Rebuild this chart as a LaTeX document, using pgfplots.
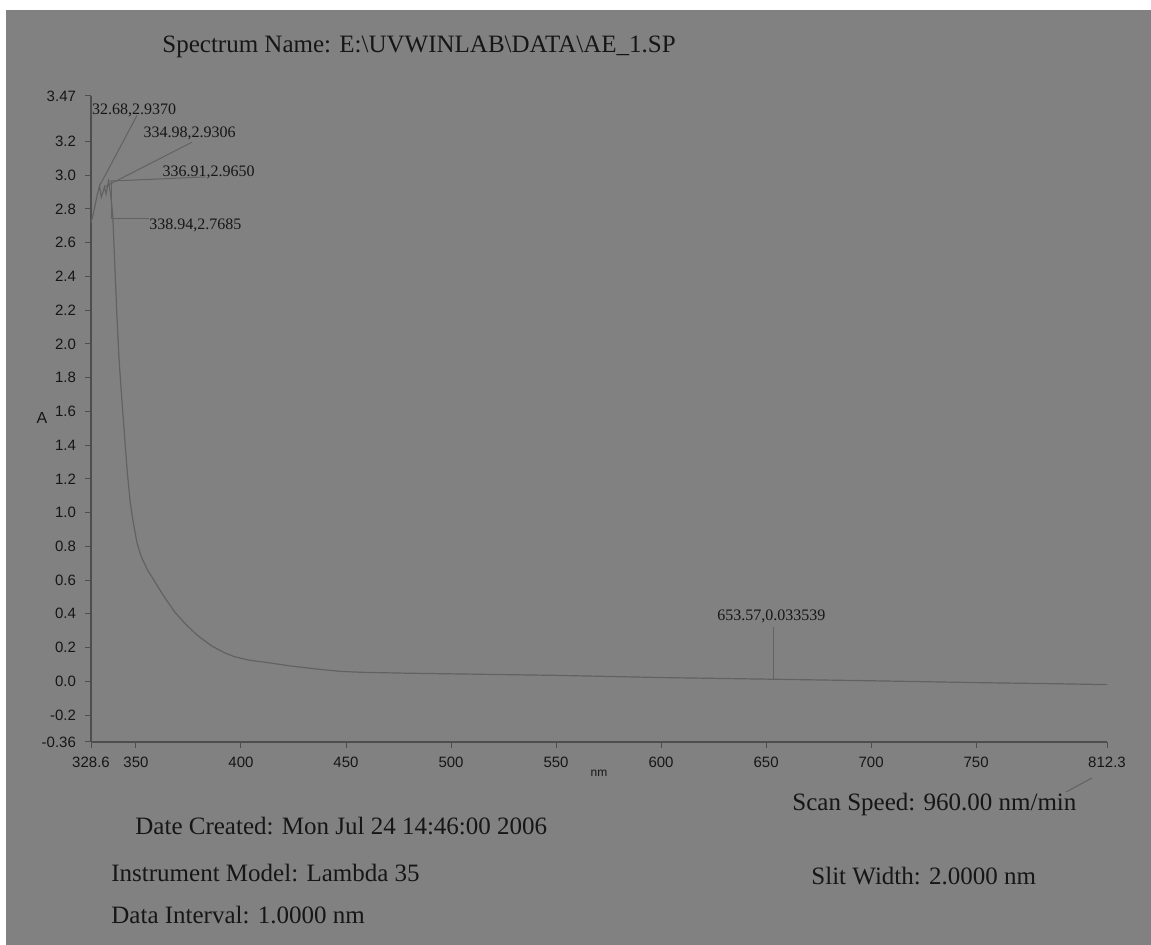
\documentclass[border=0pt]{standalone}
\usepackage{fontspec}
\setmainfont{Liberation Serif}
\newfontfamily\sansfont{Liberation Sans}
\usepackage{pgfplots}
\pgfplotsset{compat=1.18}
\definecolor{bg}{RGB}{129,129,129}
\definecolor{curve}{RGB}{98,98,98}
\definecolor{axl}{RGB}{78,78,78}
\definecolor{txt}{RGB}{22,22,22}
\begin{document}
\begin{tikzpicture}
\useasboundingbox (0,0) rectangle (575.5pt,472.5pt);
\fill[white] (0,0) rectangle (575.5pt,472.5pt);
\fill[bg] (3pt,0) rectangle (575.5pt,467.5pt);
\begin{axis}[
  at={(45.5pt,101.5pt)}, anchor=south west,
  scale only axis, width=508pt, height=323pt,
  xmin=328.6, xmax=812.3, ymin=-0.36, ymax=3.47,
  axis lines=left,
  axis line style={-, draw=axl, line width=0.6pt},
  tick style={draw=axl, line width=0.5pt},
  tick align=outside,
  major tick length=3pt,
  xtick={328.6,350,400,450,500,550,600,650,700,750,812.3},
  xticklabels={328.6,350,400,450,500,550,600,650,700,750,812.3},
  ytick={-0.36,-0.2,0,0.2,0.4,0.6,0.8,1.0,1.2,1.4,1.6,1.8,2.0,2.2,2.4,2.6,2.8,3.0,3.2,3.47},
  yticklabels={-0.36,-0.2,0.0,0.2,0.4,0.6,0.8,1.0,1.2,1.4,1.6,1.8,2.0,2.2,2.4,2.6,2.8,3.0,3.2,3.47},
  tick label style={font=\sansfont\fontsize{7.5}{8}\selectfont, text=txt},
  xticklabel style={yshift=-1pt},
  yticklabel style={xshift=-1pt},
  clip=false,
]
\addplot[curve, line width=0.6pt] coordinates {
(328.6,2.72) (329.5,2.76) (330.5,2.82) (331.5,2.88) (332.68,2.937)
(333.5,2.87) (334.3,2.90) (334.98,2.9306) (335.8,2.89) (336.91,2.965)
(337.8,2.90) (338.94,2.7685) (340,2.45) (341,2.15) (342,1.90) (343,1.72)
(344.3,1.50) (345.8,1.25) (347.2,1.07) (348.6,0.95) (350.5,0.82) (352.5,0.74)
(355.5,0.66) (358.5,0.60) (363.5,0.50) (368.5,0.41) (373.5,0.34) (379.5,0.27)
(386,0.21) (392,0.17) (397,0.145) (404,0.125) (413,0.11) (424,0.09)
(438,0.07) (448,0.058) (458,0.053) (478,0.048) (500,0.044) (550,0.035)
(600,0.022) (653.57,0.012) (700,0.003) (750,-0.008) (790,-0.015) (812.3,-0.02)
};
% peak annotations
\draw[curve, line width=0.5pt] (axis cs:332.68,2.937) -- (axis cs:350.5,3.355);
\node[anchor=west, inner sep=0pt, text=txt, font=\fontsize{8}{9}\selectfont] at (axis cs:328.9,3.385) {32.68,2.9370};
\draw[curve, line width=0.5pt] (axis cs:334.98,2.9306) -- (axis cs:376.5,3.195);
\node[anchor=west, inner sep=0pt, text=txt, font=\fontsize{8}{9}\selectfont] at (axis cs:353.5,3.25) {334.98,2.9306};
\draw[curve, line width=0.5pt] (axis cs:336.91,2.965) -- (axis cs:383,2.99);
\node[anchor=west, inner sep=0pt, text=txt, font=\fontsize{8}{9}\selectfont] at (axis cs:362.5,3.017) {336.91,2.9650};
\draw[curve, line width=0.5pt] (axis cs:338.4,2.965) -- (axis cs:338.4,2.745) -- (axis cs:356,2.745);
\node[anchor=west, inner sep=0pt, text=txt, font=\fontsize{8}{9}\selectfont] at (axis cs:356.2,2.70) {338.94,2.7685};
\draw[curve, line width=0.5pt] (axis cs:653.57,0.012) -- (axis cs:653.57,0.32);
\node[anchor=south, inner sep=0pt, text=txt, font=\fontsize{8}{9}\selectfont] at (axis cs:652.5,0.345) {653.57,0.033539};
\end{axis}
\draw[curve, line width=0.5pt] (546pt,83.5pt) -- (533pt,76.5pt);
\node[text=txt, font=\sansfont\fontsize{8}{9}\selectfont] at (21pt,263.5pt) {A};
\node[text=txt, font=\sansfont\fontsize{6}{7}\selectfont] at (299.5pt,86pt) {nm};
\node[anchor=west, inner sep=0pt, text=txt, font=\fontsize{12.5}{14}\selectfont] at (81pt,449pt) {Spectrum Name: E:\textbackslash UVWINLAB\textbackslash DATA\textbackslash AE\_1.SP};
\node[anchor=west, inner sep=0pt, text=txt, font=\fontsize{12.5}{14}\selectfont] at (396pt,70pt) {Scan Speed: 960.00 nm/min};
\node[anchor=west, inner sep=0pt, text=txt, font=\fontsize{12.5}{14}\selectfont] at (67.5pt,59.5pt) {Date Created: Mon Jul 24 14:46:00 2006};
\node[anchor=west, inner sep=0pt, text=txt, font=\fontsize{12.5}{14}\selectfont] at (55.5pt,36pt) {Instrument Model: Lambda 35};
\node[anchor=west, inner sep=0pt, text=txt, font=\fontsize{12.5}{14}\selectfont] at (405.5pt,34.5pt) {Slit Width: 2.0000 nm};
\node[anchor=west, inner sep=0pt, text=txt, font=\fontsize{12.5}{14}\selectfont] at (55.5pt,15pt) {Data Interval: 1.0000 nm};
\end{tikzpicture}
\end{document}
